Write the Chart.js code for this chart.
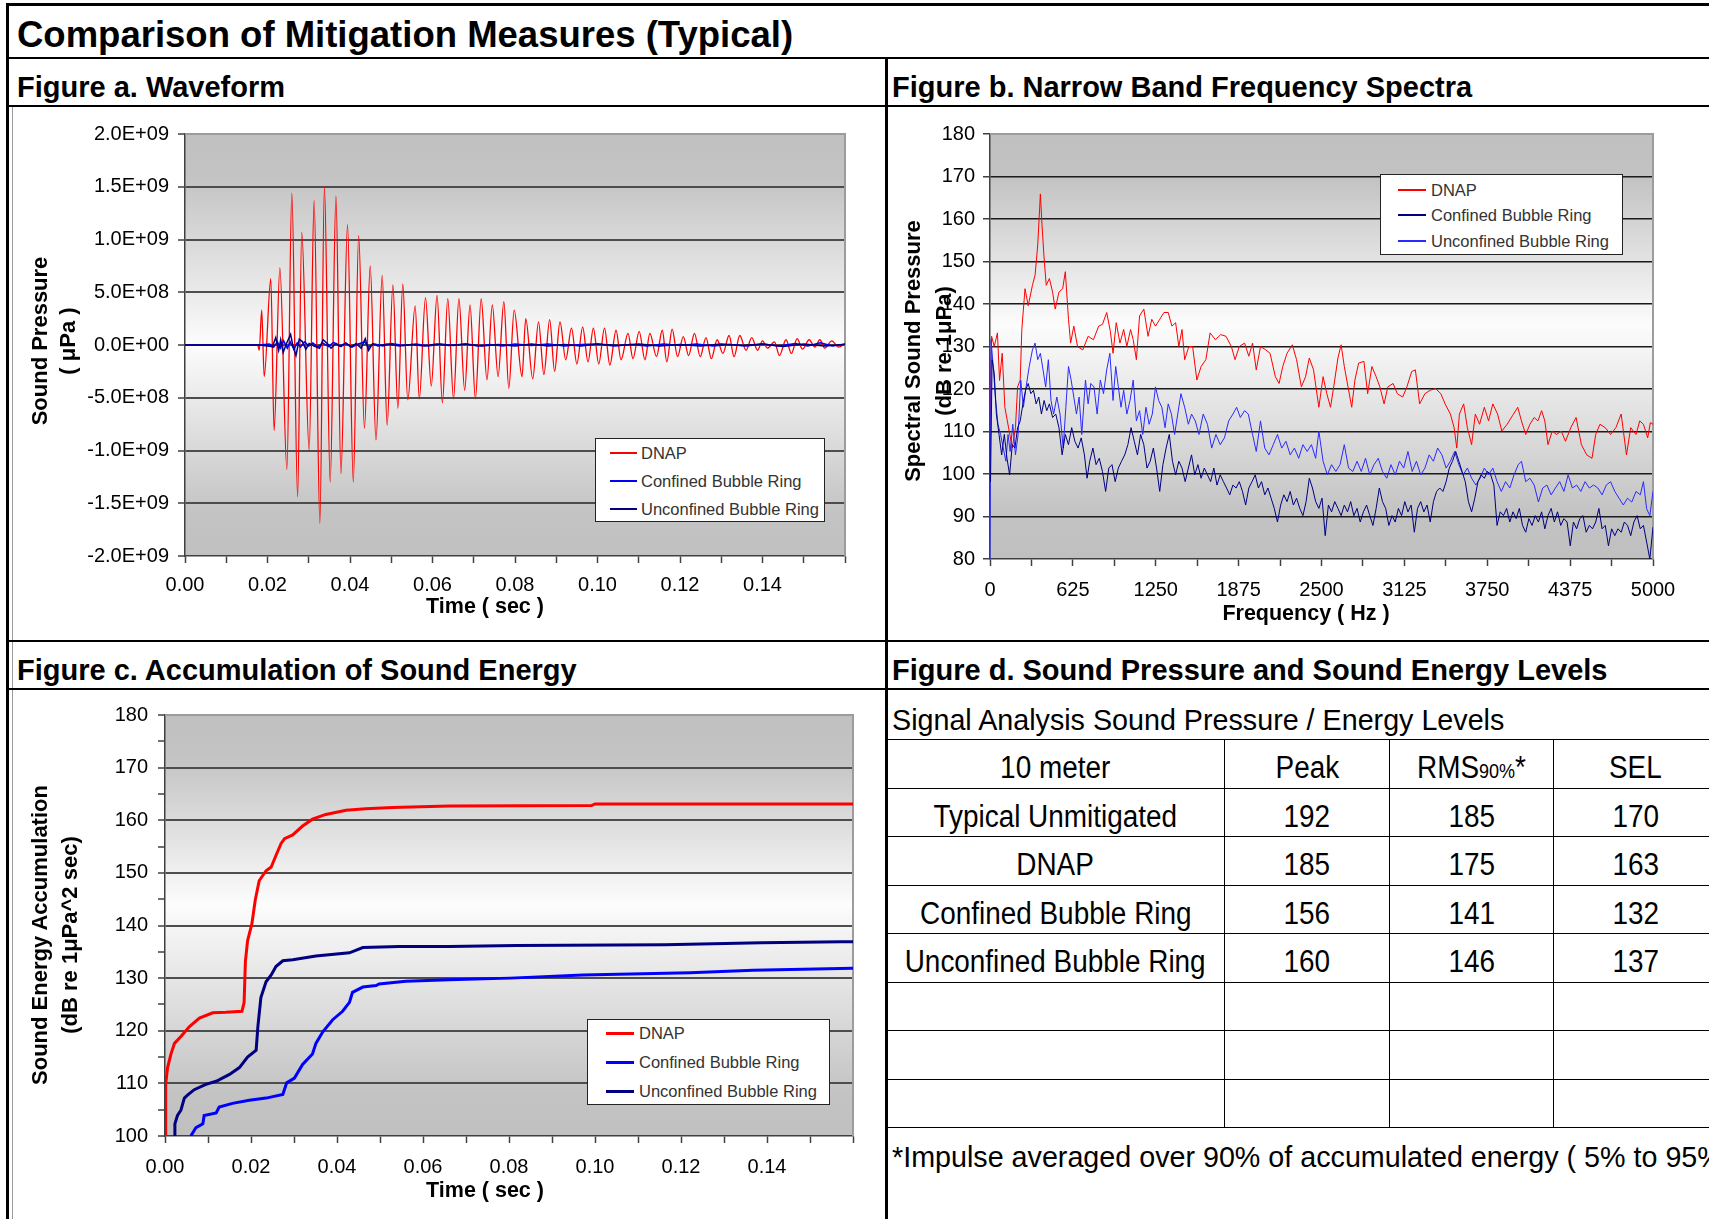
<!DOCTYPE html>
<html>
<head>
<meta charset="utf-8">
<script src="https://cdn.jsdelivr.net/npm/chart.js@4.4.1/dist/chart.umd.min.js"></script>
<style>
html,body{margin:0;padding:0;background:#fff;}
#page{position:relative;width:1709px;height:1219px;overflow:hidden;font-family:"Liberation Sans",Arial,sans-serif;color:#000;background:#fff;}
.ln{position:absolute;background:#000;}
.t{position:absolute;white-space:nowrap;transform:translateY(-50%);line-height:1;}
.hdr{font-weight:bold;font-size:29px;}
.rot{position:absolute;white-space:nowrap;transform:translate(-50%,-50%) rotate(-90deg);font-weight:bold;font-size:22px;line-height:1;}
.xt{position:absolute;white-space:nowrap;transform:translate(-50%,-50%);font-weight:bold;font-size:21.5px;line-height:1;}
.legend{position:absolute;background:#fff;border:1.5px solid #222;box-sizing:border-box;}
.lgline{position:absolute;}
.lgtext{position:absolute;white-space:nowrap;font-size:16.5px;color:#333;transform:translateY(-50%);line-height:1;}
canvas{position:absolute;}
#tbl{position:absolute;left:886px;top:739px;width:831px;border-collapse:collapse;table-layout:fixed;font-size:31px;}
#tbl td{border:1.5px solid #000;padding:0;text-align:center;vertical-align:middle;height:47.5px;line-height:1;white-space:nowrap;overflow:visible;}
#tbl td span.c{display:inline-block;transform:translateY(4px) scaleX(0.9);}
#tbl td small{font-size:20px;}
</style>
</head>
<body>
<div id="page">
  <!-- frame lines -->
  <div class="ln" style="left:6px;top:3px;width:1703px;height:3px;"></div>
  <div class="ln" style="left:6px;top:3px;width:3px;height:1216px;"></div>
  <div class="ln" style="left:12px;top:106px;width:1px;height:1113px;background:#9a9a9a;"></div>
  <div class="ln" style="left:6px;top:57px;width:1703px;height:2px;"></div>
  <div class="ln" style="left:6px;top:105px;width:1703px;height:2px;"></div>
  <div class="ln" style="left:6px;top:640px;width:1703px;height:2px;"></div>
  <div class="ln" style="left:6px;top:688px;width:1703px;height:2px;"></div>
  <div class="ln" style="left:885px;top:57px;width:3px;height:1162px;"></div>

  <div class="t" style="left:17px;top:35px;font-weight:bold;font-size:36.5px;">Comparison of Mitigation Measures (Typical)</div>
  <div class="t hdr" style="left:17px;top:87px;">Figure a. Waveform</div>
  <div class="t hdr" style="left:892px;top:87px;">Figure b. Narrow Band Frequency Spectra</div>
  <div class="t hdr" style="left:17px;top:670px;">Figure c. Accumulation of Sound Energy</div>
  <div class="t hdr" style="left:892px;top:670px;">Figure d. Sound Pressure and Sound Energy Levels</div>

  <canvas id="chartA" width="850" height="520" style="left:20px;top:110px;"></canvas>
  <canvas id="chartB" width="819" height="530" style="left:890px;top:110px;"></canvas>
  <canvas id="chartC" width="860" height="529" style="left:20px;top:690px;"></canvas>

  <!-- axis titles -->
  <div class="rot" style="left:40px;top:341px;">Sound Pressure</div>
  <div class="rot" style="left:68px;top:341px;">( μPa )</div>
  <div class="xt" style="left:485px;top:607px;">Time ( sec )</div>

  <div class="rot" style="left:913px;top:351px;">Spectral Sound Pressure</div>
  <div class="rot" style="left:944px;top:351px;">(dB re 1μPa)</div>
  <div class="xt" style="left:1306px;top:614px;">Frequency ( Hz )</div>

  <div class="rot" style="left:40px;top:935px;">Sound Energy Accumulation</div>
  <div class="rot" style="left:70px;top:935px;">(dB re 1μPa^2 sec)</div>
  <div class="xt" style="left:485px;top:1191px;">Time ( sec )</div>

  <div class="t" style="left:892px;top:720px;font-size:28.7px;">Signal Analysis Sound Pressure / Energy Levels</div>
  <table id="tbl"></table>
  <div class="t" style="left:892px;top:1157px;font-size:28.7px;">*Impulse averaged over 90% of accumulated energy ( 5% to 95% )</div>
</div>

<script>
// ---------------- DATA ----------------
const seriesNames = ['DNAP', 'Confined Bubble Ring', 'Unconfined Bubble Ring'];

// Figure a: waveform, [time s, pressure in 1e8 µPa]
const waveDNAP = [[0,0],[0.0176,0],[0.0180,-0.5],[0.0186,3.3],[0.0192,-3.0],[0.0208,6.3],[0.0216,-8.1],[0.0230,7.3],[0.0247,-11.8],[0.0259,14.4],[0.0273,-14.4],[0.0283,10.7],[0.0301,-10.0],[0.0313,13.7],[0.0327,-16.9],[0.0338,15.0],[0.0352,-13.0],[0.0366,14.1],[0.0378,-12.2],[0.0394,11.4],[0.0408,-13.0],[0.0421,10.4],[0.0435,-7.9],[0.0449,7.5],[0.0463,-9.0],[0.0478,6.6],[0.0490,-7.6],[0.0504,5.7],[0.0516,-6.0],[0.0528,5.8],[0.0540,-5.2],[0.0558,3.7],[0.0568,-5.1],[0.0583,4.5],[0.0597,-3.9],[0.0611,4.7],[0.0624,-5.5],[0.0637,4.4],[0.0651,-5.1],[0.0664,4.4],[0.0678,-4.3],[0.0691,3.8],[0.0704,-5.1],[0.0718,4.4],[0.0732,-3.3],[0.0745,3.8],[0.0759,-3.0],[0.0773,4.1],[0.0785,-4.1],[0.0798,3.3],[0.0817,-3.0],[0.0826,2.5],[0.0843,-3.2],[0.0857,2.2],[0.0870,-2.8],[0.0884,2.4],[0.0896,-2.5],[0.0909,2.2],[0.0923,-1.4],[0.0937,1.6],[0.0950,-1.8],[0.0964,1.7],[0.0977,-1.6],[0.0990,1.6],[0.1003,-1.8],[0.1017,1.6],[0.1030,-1.9],[0.1045,1.4],[0.1057,-1.4],[0.1074,1.1],[0.1086,-1.3],[0.1101,1.3],[0.1115,-1.4],[0.1127,1.1],[0.1143,-1.1],[0.1157,1.4],[0.1168,-1.6],[0.1181,1.5],[0.1194,-1.1],[0.1208,0.8],[0.1221,-1.0],[0.1235,1.1],[0.1249,-1.1],[0.1263,0.7],[0.1276,-1.3],[0.1290,0.5],[0.1304,-0.8],[0.1319,0.9],[0.1331,-1.1],[0.1345,0.9],[0.1360,-0.5],[0.1374,0.7],[0.1388,-0.5],[0.1400,0.4],[0.1412,-0.3],[0.1429,0.3],[0.1441,-1.0],[0.1457,0.5],[0.1470,-0.8],[0.1484,0.6],[0.1497,-0.4],[0.1513,0.5],[0.1527,-0.2],[0.1539,0.5],[0.1551,-0.3],[0.1568,0.4],[0.1584,-0.2],[0.1600,0.1]];
const waveConfined = [[0,0],[0.0180,0],[0.0205,0.1],[0.0215,-0.2],[0.0224,0.3],[0.0231,-0.3],[0.0239,0.4],[0.0248,-0.3],[0.0255,0.3],[0.0264,-0.4],[0.0272,0.2],[0.0280,-0.2],[0.0290,0.3],[0.0300,-0.1],[0.0310,0.2],[0.0322,-0.2],[0.0334,0.2],[0.0348,-0.15],[0.0360,0.25],[0.0375,-0.1],[0.0390,0.15],[0.0405,-0.2],[0.0420,0.1],[0.0435,0.3],[0.0445,-0.2],[0.0460,0.1],[0.0480,-0.1],[0.0500,0.15],[0.0530,-0.05],[0.0560,0.1],[0.0590,-0.1],[0.0620,0.1],[0.0650,-0.05],[0.0680,0.1],[0.0710,-0.1],[0.0740,0.05],[0.0770,-0.1],[0.0800,0.1],[0.0840,-0.05],[0.0880,0.1],[0.0920,-0.1],[0.0960,0.05],[0.1000,0.1],[0.1040,-0.1],[0.1080,0.05],[0.1120,-0.1],[0.1160,0.1],[0.1200,-0.05],[0.1240,0.1],[0.1280,-0.1],[0.1320,0.05],[0.1360,-0.1],[0.1400,0.1],[0.1440,-0.1],[0.1480,0.15],[0.1510,-0.1],[0.1540,0.2],[0.1570,-0.1],[0.1600,0.1]];
const waveUnconfined = [[0,0],[0.0180,0],[0.0212,-0.15],[0.0220,0.7],[0.0227,-0.5],[0.0232,0.5],[0.0238,-0.7],[0.0246,0.15],[0.0256,1.0],[0.0262,-0.15],[0.0269,-1.0],[0.0277,0.55],[0.0285,0.3],[0.0293,-0.4],[0.0301,0.15],[0.0313,-0.1],[0.0326,-0.3],[0.0335,0.5],[0.0346,0.1],[0.0354,-0.3],[0.0366,0.15],[0.0378,-0.15],[0.0390,0.2],[0.0402,-0.2],[0.0415,0.15],[0.0427,-0.3],[0.0437,0.6],[0.0445,-0.5],[0.0455,0.15],[0.0467,-0.1],[0.0490,0.1],[0.0520,-0.1],[0.0550,0.05],[0.0580,-0.1],[0.0610,0.1],[0.0640,-0.05],[0.0680,0.1],[0.0720,-0.1],[0.0760,0.05],[0.0800,-0.1],[0.0840,0.1],[0.0880,-0.1],[0.0920,0.05],[0.0960,-0.1],[0.1000,0.1],[0.1050,-0.05],[0.1100,0.1],[0.1150,-0.1],[0.1200,0.05],[0.1250,-0.1],[0.1300,0.1],[0.1350,-0.05],[0.1400,0.1],[0.1450,-0.15],[0.1500,0.1],[0.1550,-0.1],[0.1600,0.05]];

// Figure b: narrow band spectra, [frequency Hz, dB re 1µPa]
const specDNAP = [[0,110],[12,132.4],[32,130],[56,133.2],[72,122],[92,128.4],[112,115.7],[140,110.9],[168,106.1],[192,110.9],[208,120.5],[228,122.1],[240,134],[264,143.6],[288,139.6],[320,144.4],[340,146.8],[360,153.9],[380,165.9],[392,158.7],[408,150.8],[424,144.4],[448,146],[472,142.8],[492,138.8],[520,142.8],[548,143.6],[568,147.6],[592,136.4],[608,130.8],[632,134.8],[660,130],[700,129.2],[740,132.4],[780,131.6],[820,134.8],[848,135.2],[880,138],[908,133.5],[928,128.4],[952,135.6],[980,130.8],[1008,134],[1032,130],[1060,134],[1080,131.6],[1104,126.9],[1128,137.2],[1160,138.8],[1192,132.4],[1220,136.4],[1248,134.8],[1280,136.4],[1312,138],[1344,138],[1372,134.8],[1400,135.6],[1424,130],[1448,134],[1468,126.9],[1500,130],[1528,130],[1560,122.1],[1592,125.3],[1628,126.9],[1660,133.2],[1700,131.6],[1740,132.8],[1780,132.4],[1820,130],[1848,126.9],[1880,130],[1920,130.8],[1952,127.7],[1980,130.8],[2008,124.5],[2040,130],[2080,129.2],[2112,128.4],[2152,122.9],[2180,121.3],[2208,125.3],[2240,128.4],[2280,130.4],[2312,126.9],[2348,120.5],[2380,122.9],[2408,127.3],[2440,124.5],[2480,115.7],[2512,122.9],[2540,118.9],[2568,115.7],[2592,120.5],[2624,127.3],[2648,130.4],[2672,125.3],[2700,120.5],[2728,115.7],[2752,122.1],[2780,126.1],[2820,126.5],[2848,118.9],[2880,125.3],[2912,122.9],[2940,120.5],[2972,116.5],[3000,120.5],[3040,121.3],[3072,118.9],[3112,118.1],[3144,120.5],[3180,124.1],[3208,124.5],[3240,116.5],[3280,118.9],[3320,119.7],[3360,120.1],[3400,118.9],[3432,116.5],[3472,114.1],[3500,110.9],[3520,106.1],[3540,114.1],[3572,116.5],[3600,110.9],[3632,106.9],[3660,114.1],[3692,111.7],[3728,115.7],[3760,112.5],[3792,116.5],[3828,114.1],[3860,110.1],[3900,111.7],[3940,113.7],[3980,115.7],[4008,112.5],[4040,109.3],[4072,111.7],[4104,113.3],[4132,112.5],[4160,114.9],[4184,112.5],[4208,106.9],[4240,110.1],[4272,109.3],[4308,110.1],[4340,107.7],[4380,110.9],[4420,113.3],[4460,106.9],[4500,104.5],[4540,103.7],[4568,109.3],[4600,111.7],[4640,110.9],[4680,109.3],[4720,110.9],[4760,114.1],[4800,104.5],[4832,110.9],[4872,109.3],[4900,112.5],[4928,111.7],[4960,108.5],[4980,112.1],[5000,111.7]];
const specConfined = [[4,98.2],[16,126.9],[32,123.7],[48,114.1],[68,109.3],[88,104.5],[108,109.3],[128,103.7],[148,99.8],[168,106.9],[188,106.1],[208,110.9],[228,112.5],[248,116.5],[268,119.7],[288,121.3],[308,118.9],[328,119.7],[348,116.5],[368,118.1],[388,114.1],[408,117.3],[428,114.9],[448,116.5],[472,113.3],[496,114.1],[520,110.9],[544,104.5],[568,109.3],[592,106.9],[616,110.9],[640,107.7],[664,106.1],[688,108.5],[712,104.5],[732,99],[752,103],[776,106.1],[800,102.2],[824,103.7],[848,100.6],[872,95.9],[896,101.4],[920,102.2],[944,98.2],[968,101.4],[992,103],[1016,104.5],[1040,106.9],[1064,110.9],[1088,107.7],[1112,104.5],[1136,109.3],[1160,106.9],[1184,101.4],[1208,103],[1232,106.1],[1256,101.4],[1280,95.9],[1304,102.2],[1328,106.1],[1352,109.3],[1376,103],[1400,99.8],[1424,103],[1448,101.4],[1472,98.2],[1496,101.4],[1520,104.5],[1544,99.8],[1568,102.2],[1592,99],[1616,101.4],[1640,99.8],[1664,98.2],[1688,101.4],[1712,97.4],[1736,99.8],[1760,98.2],[1784,96.7],[1808,95.1],[1832,97.4],[1856,96.7],[1880,98.2],[1904,95.9],[1928,92.7],[1952,96.7],[1976,98.2],[2000,99.8],[2024,96.7],[2048,98.2],[2072,95.1],[2096,96.7],[2120,94.3],[2144,91.9],[2168,88.7],[2192,92.7],[2216,95.1],[2240,93.5],[2264,95.9],[2288,92.7],[2312,94.3],[2336,91.9],[2360,90.2],[2384,93.5],[2408,99],[2432,96.7],[2456,93.5],[2480,91.9],[2504,94.3],[2528,85.5],[2552,92.7],[2576,91.1],[2600,93.5],[2624,91.9],[2648,90.2],[2672,92.7],[2696,91.1],[2720,93.5],[2744,90.2],[2768,91.9],[2792,88.7],[2816,91.1],[2840,92.7],[2864,90.2],[2888,87.9],[2912,91.9],[2936,96.7],[2960,93.5],[2984,91.9],[3008,87.9],[3032,90.2],[3056,88.7],[3080,91.9],[3104,90.2],[3128,93.5],[3152,91.1],[3176,92.7],[3200,86.3],[3224,91.9],[3248,93.5],[3272,91.1],[3296,92.7],[3320,88.7],[3344,93.5],[3368,95.9],[3392,96.7],[3416,95.9],[3440,98.2],[3464,101.4],[3488,103],[3512,105.3],[3536,103],[3560,100.6],[3584,98.2],[3608,93.5],[3632,91.1],[3656,94.3],[3680,98.2],[3704,99.8],[3728,99],[3752,100.6],[3776,99.8],[3800,97.4],[3824,87.9],[3848,91.1],[3872,90.2],[3896,91.9],[3920,88.7],[3944,91.1],[3968,89.5],[3992,91.9],[4016,87.9],[4040,86.3],[4064,89.5],[4088,87.9],[4112,90.2],[4136,88.7],[4160,91.1],[4184,87.1],[4208,90.2],[4232,91.9],[4256,88.7],[4280,91.1],[4304,87.9],[4328,89.5],[4352,88.7],[4376,83.1],[4400,88.7],[4424,87.1],[4448,89.5],[4472,90.2],[4496,86.3],[4520,87.9],[4544,87.1],[4568,88.7],[4592,91.9],[4616,87.1],[4640,87.9],[4664,83.1],[4688,87.1],[4712,85.5],[4736,87.1],[4760,86.3],[4784,88.7],[4808,87.9],[4832,85.5],[4856,88.7],[4880,90.2],[4904,87.1],[4928,87.9],[4952,84],[4976,80],[5000,87.5]];
const specUnconfined = [[0,80],[8,131.6],[24,125.3],[40,118.1],[60,111.7],[80,109.3],[100,106.1],[120,103],[136,109.3],[152,105.3],[172,111.7],[192,104.5],[212,109.3],[232,122.1],[252,115.7],[272,120.5],[296,125.3],[320,129.2],[340,130.8],[360,126.9],[380,128.4],[400,124.5],[420,120.5],[440,126.9],[460,117.3],[480,114.1],[504,118.1],[528,114.1],[552,106.1],[572,115.7],[592,125.3],[612,122.1],[632,118.1],[652,114.1],[672,118.1],[692,109.3],[720,122.1],[740,116.5],[760,121.3],[784,120.5],[808,114.1],[832,122.1],[856,118.9],[880,124.5],[904,128.4],[928,117.3],[948,125.3],[968,120.5],[988,115.7],[1008,119.7],[1032,114.1],[1056,117.3],[1080,122.1],[1104,112.5],[1128,114.9],[1152,109.3],[1176,115.7],[1200,111.7],[1224,114.1],[1248,120.5],[1272,117.3],[1296,115.7],[1320,110.9],[1344,116.5],[1368,114.1],[1392,109.3],[1416,114.1],[1440,118.9],[1468,115.7],[1496,111.7],[1520,114.1],[1548,112.5],[1576,109.3],[1608,114.1],[1640,111.7],[1672,106.1],[1704,109.3],[1736,106.9],[1768,108.5],[1800,112.5],[1832,114.1],[1860,115.7],[1888,113.3],[1920,114.9],[1948,114.1],[1980,109.3],[2008,105.3],[2040,112.5],[2072,106.1],[2104,104.5],[2136,106.9],[2168,109.3],[2200,106.1],[2232,107.7],[2264,104.5],[2296,106.1],[2328,103.7],[2360,106.9],[2392,105.3],[2424,106.9],[2456,103.7],[2480,110.1],[2512,103],[2544,99.8],[2576,102.2],[2608,100.6],[2640,102.2],[2672,106.9],[2704,101.4],[2736,100.6],[2768,103],[2800,100.6],[2832,103.7],[2864,99.8],[2896,102.2],[2928,103.7],[2960,100.6],[2992,99],[3024,102.2],[3056,99.8],[3088,103],[3120,101.4],[3152,105.3],[3184,100.6],[3216,103],[3248,99.8],[3280,101.4],[3312,104.5],[3344,103],[3376,106.1],[3408,104.5],[3440,101.4],[3472,103],[3504,105.3],[3536,102.2],[3568,99.8],[3600,101.4],[3632,99],[3664,97.4],[3696,99],[3728,101.4],[3760,99.8],[3792,101.4],[3824,98.2],[3856,95.9],[3888,98.2],[3920,96.7],[3952,99.8],[3984,102.2],[4008,103],[4040,98.2],[4072,99],[4104,97.4],[4136,93.4],[4168,96.7],[4200,97.4],[4232,95.1],[4264,96.7],[4296,98.2],[4328,95.9],[4360,99.8],[4392,96.7],[4424,97.4],[4456,95.9],[4488,98.2],[4520,96.7],[4552,97.4],[4584,96.7],[4616,95.1],[4648,97.4],[4680,98.2],[4712,95.9],[4744,94.3],[4776,92.7],[4808,94.3],[4840,93.4],[4872,95.9],[4904,95.1],[4928,98.2],[4952,91.8],[4976,90.2],[5000,95.9]];

// Figure c: accumulated sound energy, [time s, dB re 1µPa^2 sec]
const energyDNAP = [[0,100],[0.00015,109.8],[0.0006,113],[0.0014,115.6],[0.0022,117.6],[0.0037,118.9],[0.0057,120.8],[0.0080,122.4],[0.0111,123.4],[0.0142,123.5],[0.0179,123.7],[0.0184,125.4],[0.0187,133.2],[0.0192,137.1],[0.0202,140.3],[0.0210,144.9],[0.0219,148.5],[0.0235,150.4],[0.0247,151.1],[0.0258,153.3],[0.0270,155.6],[0.0278,156.5],[0.0297,157.2],[0.0320,158.9],[0.0343,160.2],[0.0374,161.1],[0.0421,161.9],[0.0467,162.2],[0.0529,162.4],[0.0661,162.7],[0.0992,162.8],[0.1000,163.1],[0.1600,163.1]];
const energyConfined = [[0.0060,100],[0.0072,101.6],[0.0088,102.3],[0.0091,103.9],[0.0119,104.4],[0.0126,105.5],[0.0157,106.2],[0.0196,106.8],[0.0235,107.2],[0.0274,107.9],[0.0283,110.1],[0.0301,111.0],[0.0320,113.6],[0.0343,115.6],[0.0351,117.6],[0.0367,119.8],[0.0390,122.1],[0.0413,123.7],[0.0429,125.4],[0.0436,127.3],[0.0460,128.3],[0.0491,128.6],[0.0498,128.9],[0.0560,129.4],[0.0661,129.7],[0.0802,130.0],[0.0972,130.6],[0.1221,131.0],[0.1368,131.5],[0.1600,131.9]];
const energyUnconfined = [[0.0022,100],[0.0023,102.3],[0.0029,103.9],[0.0037,104.9],[0.0045,107.2],[0.0053,107.8],[0.0068,108.8],[0.0095,109.8],[0.0119,110.4],[0.0150,111.7],[0.0173,113.0],[0.0192,115.0],[0.0212,116.3],[0.0216,120.8],[0.0223,126.3],[0.0235,129.3],[0.0247,130.6],[0.0258,132.2],[0.0274,133.3],[0.0297,133.5],[0.0351,134.2],[0.0429,134.8],[0.0460,135.8],[0.0545,136.0],[0.0661,136.0],[0.0817,136.2],[0.1162,136.35],[0.1387,136.7],[0.1574,136.9],[0.1600,136.9]];

// Figure d: table
const tableHeader = ['10 meter', 'Peak', 'RMS90%*', 'SEL'];
const tableRowLabels = ['Typical Unmitigated', 'DNAP', 'Confined Bubble Ring', 'Unconfined Bubble Ring'];
const peakLevels = [192, 185, 156, 160];
const rmsLevels = [185, 175, 141, 146];
const selLevels = [170, 163, 132, 137];
const emptyRows = 3;

// ---------------- RENDERING ----------------
const FONT = '"Liberation Sans", Arial, sans-serif';
const RED = '#ff0000', BLUE = '#0000ff', NAVY = '#000080', BLUE_B = '#2a2aff';

const plotFrame = {
  id: 'plotFrame',
  beforeDraw(chart, args, opts) {
    const {ctx, chartArea: a} = chart;
    const g = ctx.createLinearGradient(0, a.top, 0, a.bottom);
    (opts.stops || []).forEach(s => g.addColorStop(s[0], s[1]));
    ctx.save(); ctx.fillStyle = g; ctx.fillRect(a.left, a.top, a.right - a.left, a.bottom - a.top); ctx.restore();
  },
  beforeDatasetsDraw(chart) {
    const {ctx, chartArea: a} = chart;
    ctx.save(); ctx.strokeStyle = '#9c9c9c'; ctx.lineWidth = 2;
    ctx.beginPath(); ctx.moveTo(a.left, a.top); ctx.lineTo(a.right, a.top); ctx.lineTo(a.right, a.bottom); ctx.stroke();
    ctx.restore();
  }
};

function sci(v) {
  if (Math.abs(v) < 1) return '0.0E+00';
  const parts = v.toExponential(1).split('e');
  const n = parseInt(parts[1], 10);
  return parts[0] + 'E' + (n < 0 ? '-' : '+') + String(Math.abs(n)).padStart(2, '0');
}
function evenHundredths(v) {
  const k = Math.round(v * 100);
  return (k % 2 === 0 && k <= 14) ? (k / 100).toFixed(2) : '';
}
const tickFont = {family: FONT, size: 20};
const AX = '#404040';

function xScale(min, max, step, cb, h, pad) {
  return {
    type: 'linear', min, max,
    afterFit: s => { s.height = h; },
    ticks: {stepSize: step, autoSkip: false, maxRotation: 0, minRotation: 0, padding: pad, color: '#000', font: tickFont, callback: cb},
    grid: {drawOnChartArea: false, drawTicks: true, tickLength: 7, tickColor: AX, tickWidth: 1.5},
    border: {color: AX, width: 1.5}
  };
}
function yScale(min, max, step, cb, w, pad, gridFn, gridColor, gridW) {
  return {
    type: 'linear', min, max,
    afterFit: s => { s.width = w; },
    ticks: {stepSize: step, autoSkip: false, padding: pad, color: '#000', font: tickFont, callback: cb},
    grid: {color: c => gridFn(c.tick.value) ? gridColor : 'rgba(0,0,0,0)', lineWidth: gridW, tickLength: 7, tickColor: AX, tickWidth: 1.5},
    border: {color: AX, width: 1.5}
  };
}
function ds(label, pairs, scaleY, color, width, order, extra) {
  return Object.assign({
    label, data: pairs.map(p => ({x: p[0], y: p[1] * scaleY})),
    borderColor: color, backgroundColor: color, borderWidth: width,
    pointRadius: 0, fill: false, tension: 0, order
  }, extra || {});
}
function baseOptions(padding, scales, stops) {
  return {
    responsive: false, animation: false, events: [],
    layout: {padding},
    plugins: {legend: {display: false}, tooltip: {enabled: false}, plotFrame: {stops}},
    scales
  };
}

// Figure a
new Chart(document.getElementById('chartA'), {
  type: 'line',
  data: {datasets: [
    ds(seriesNames[0], waveDNAP, 1e8, RED, 1.3, 3, {cubicInterpolationMode: 'monotone'}),
    ds(seriesNames[1], waveConfined, 1e8, BLUE, 1.5, 2),
    ds(seriesNames[2], waveUnconfined, 1e8, NAVY, 1.5, 1)
  ]},
  options: baseOptions({left: 0, top: 24, right: 25, bottom: 0}, {
    x: xScale(0, 0.16, 0.01, evenHundredths, 74, 10),
    y: yScale(-2e9, 2e9, 5e8, sci, 165, 9, v => v < 1.9e9 && v > -1.9e9, '#4d4d4d', 2)
  }, [[0, '#c0c0c0'], [0.1, '#c3c3c3'], [0.5, '#fcfcfc'], [0.9, '#c3c3c3'], [1, '#c0c0c0']]),
  plugins: [plotFrame]
});

// Figure b
new Chart(document.getElementById('chartB'), {
  type: 'line',
  data: {datasets: [
    ds(seriesNames[0], specDNAP, 1, RED, 1, 3),
    ds(seriesNames[1], specConfined, 1, NAVY, 1, 1),
    ds(seriesNames[2], specUnconfined, 1, BLUE_B, 1, 2)
  ]},
  options: baseOptions({left: 0, top: 24, right: 56, bottom: 0}, {
    x: xScale(0, 5000, 312.5, v => (Math.round(v) % 625 === 0 ? String(Math.round(v)) : ''), 81, 12),
    y: yScale(80, 180, 10, v => String(v), 100, 8, v => v < 179 && v > 81, '#1a1a1a', 1.5)
  }, [[0, '#c0c0c0'], [0.1, '#c2c2c2'], [0.45, '#fcfcfc'], [0.9, '#c2c2c2'], [1, '#c0c0c0']]),
  plugins: [plotFrame]
});

// Figure c
new Chart(document.getElementById('chartC'), {
  type: 'line',
  data: {datasets: [
    ds(seriesNames[0], energyDNAP, 1, RED, 3, 3),
    ds(seriesNames[1], energyConfined, 1, BLUE, 3, 2),
    ds(seriesNames[2], energyUnconfined, 1, NAVY, 3, 1)
  ]},
  options: baseOptions({left: 0, top: 25, right: 27, bottom: 0}, {
    x: xScale(0, 0.16, 0.01, evenHundredths, 83, 12),
    y: yScale(100, 180, 5, v => (Math.round(v) % 10 === 0 ? String(Math.round(v)) : ''), 145, 10,
      v => Math.round(v) % 10 === 0 && v < 179 && v > 101, '#4d4d4d', 2)
  }, [[0, '#c0c0c0'], [0.1, '#c3c3c3'], [0.45, '#fcfcfc'], [0.9, '#c3c3c3'], [1, '#c0c0c0']]),
  plugins: [plotFrame]
});

// HTML legends
function legend(box, colors, lineW, rows, lineX, lineLen, textX) {
  const d = document.createElement('div');
  d.className = 'legend';
  Object.assign(d.style, {left: box[0] + 'px', top: box[1] + 'px', width: box[2] + 'px', height: box[3] + 'px'});
  seriesNames.forEach((name, i) => {
    const l = document.createElement('div');
    l.className = 'lgline';
    Object.assign(l.style, {left: lineX + 'px', top: (rows[i] - lineW / 2) + 'px', width: lineLen + 'px', height: lineW + 'px', background: colors[i]});
    d.appendChild(l);
    const t = document.createElement('div');
    t.className = 'lgtext';
    t.textContent = name;
    Object.assign(t.style, {left: textX + 'px', top: rows[i] + 'px'});
    d.appendChild(t);
  });
  document.getElementById('page').appendChild(d);
}
legend([595, 438, 230, 84], [RED, BLUE, NAVY], 1.5, [14, 42, 70], 14, 27, 45);
legend([1380, 174, 243, 81], [RED, NAVY, BLUE_B], 1.5, [15, 40, 66], 17, 28, 50);
legend([587, 1019, 243, 86], [RED, BLUE, NAVY], 3, [13, 42, 71], 18, 28, 51);

// Table
(function () {
  const tbl = document.getElementById('tbl');
  const widths = [338, 165, 164, 164];
  const cg = document.createElement('colgroup');
  widths.forEach(w => { const c = document.createElement('col'); c.style.width = w + 'px'; cg.appendChild(c); });
  tbl.appendChild(cg);
  function cell(row, html) {
    const td = row.insertCell();
    const s = document.createElement('span');
    s.className = 'c';
    s.innerHTML = html;
    td.appendChild(s);
  }
  const hr = tbl.insertRow();
  tableHeader.forEach(h => {
    cell(hr, h.startsWith('RMS') ? 'RMS<small>' + h.slice(3, -1) + '</small>*' : h);
  });
  tableRowLabels.forEach((lab, i) => {
    const r = tbl.insertRow();
    [lab, peakLevels[i], rmsLevels[i], selLevels[i]].forEach(v => cell(r, String(v)));
  });
  for (let k = 0; k < emptyRows; k++) {
    const r = tbl.insertRow();
    for (let j = 0; j < 4; j++) cell(r, '&nbsp;');
  }
})();
</script>
</body>
</html>
